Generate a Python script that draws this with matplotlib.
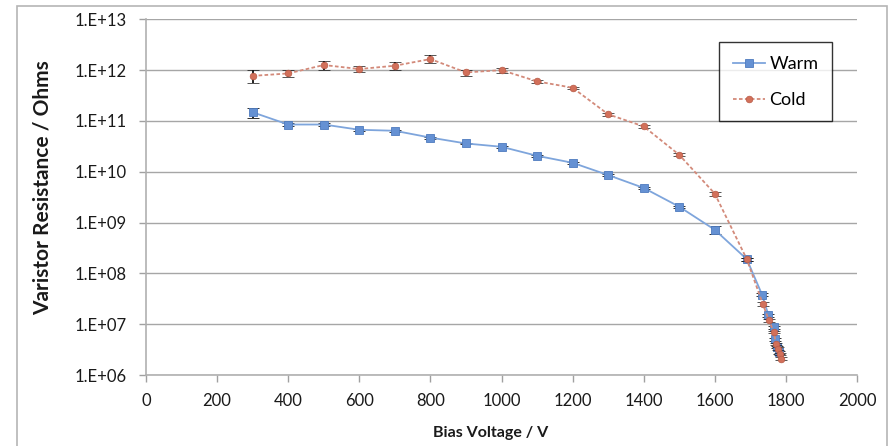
import matplotlib
matplotlib.use("Agg")
import matplotlib.pyplot as plt
from matplotlib.patches import Rectangle
from matplotlib.ticker import FixedLocator, FixedFormatter, NullLocator

plt.rcParams['font.family'] = ['Lato', 'DejaVu Sans']

# ---- data ----
warm_v = [300, 400, 500, 600, 700, 800, 900, 1000, 1100, 1200, 1300, 1400, 1500, 1600,
          1690, 1733, 1751, 1766, 1768, 1774, 1780]
warm_r = [1.48e11, 8.5e10, 8.5e10, 6.7e10, 6.4e10, 4.7e10, 3.6e10, 3.1e10, 2.06e10, 1.5e10,
          8.6e9, 4.8e9, 2.05e9, 7.2e8, 1.9e8, 3.8e7, 1.5e7, 8.8e6, 5.0e6, 3.6e6, 2.8e6]
warm_err = [3.5e10, 5e9, 5e9, 3e9, 3e9, 2e9, 1.5e9, 1.2e9, 1e9, 6e8, 4e8, 2.5e8, 1e8, 1.2e8,
            1.2e7, 2.5e6, 1e6, 6e5, 3e5, 2e5, 2e5]

cold_v = [300, 400, 500, 600, 700, 800, 900, 1000, 1100, 1200, 1300, 1400, 1500, 1600,
          1690, 1735, 1752, 1766, 1772, 1778, 1782, 1786]
cold_r = [7.7e11, 8.6e11, 1.26e12, 1.05e12, 1.22e12, 1.65e12, 9.0e11, 1.0e12, 6.0e11, 4.5e11,
          1.35e11, 7.8e10, 2.15e10, 3.7e9, 1.9e8, 2.5e7, 1.2e7, 7.0e6, 4.1e6, 3.3e6, 2.6e6, 2.1e6]
cold_err = [2.2e11, 1.3e11, 2.5e11, 1.5e11, 2e11, 3e11, 1.2e11, 1.2e11, 5e10, 2.5e10, 8e9, 4e9,
            1.5e9, 3e8, 1.5e7, 2e6, 8e5, 4e5, 2.5e5, 2e5, 1.5e5, 1.2e5]

x_ticks = [0, 200, 400, 600, 800, 1000, 1200, 1400, 1600, 1800, 2000]
y_ticks = [1e6, 1e7, 1e8, 1e9, 1e10, 1e11, 1e12, 1e13]
y_tick_labels = ['1.E+06', '1.E+07', '1.E+08', '1.E+09', '1.E+10', '1.E+11', '1.E+12', '1.E+13']

# ---- figure ----
W, H = 891, 446
fig = plt.figure(figsize=(W / 100, H / 100), dpi=100)
fig.patch.set_facecolor('white')
fig.add_artist(Rectangle((17 / W, -0.02), (887 - 17) / W, 1 - 6 / H + 0.02,
                         transform=fig.transFigure, fill=False, edgecolor='#B5B5B5', lw=1.2))

ax = fig.add_axes([146 / W, 1 - 375 / H, (857 - 146) / W, (375 - 19.3) / H])
ax.set_yscale('log')
ax.set_xlim(0, 2000)
ax.set_ylim(1e6, 1e13)

grid_c = '#A6A6A6'
ax.yaxis.set_major_locator(FixedLocator(y_ticks))
ax.yaxis.set_major_formatter(FixedFormatter(y_tick_labels))
ax.yaxis.set_minor_locator(NullLocator())
ax.set_xticks(x_ticks)
ax.set_xticklabels([str(v) for v in x_ticks])
ax.grid(axis='y', color=grid_c, lw=1.0)
ax.set_axisbelow(True)
for s in ['top', 'right']:
    ax.spines[s].set_visible(False)
for s in ['left', 'bottom']:
    ax.spines[s].set_color('#B0B0B0')
    ax.spines[s].set_linewidth(1.2)
ax.tick_params(axis='both', which='major', direction='out', length=5, width=1,
               color='#A0A0A0', labelsize=12, labelcolor='#1a1a1a')
ax.tick_params(axis='y', pad=9)
ax.tick_params(axis='x', pad=8)

ax.errorbar(warm_v, warm_r, yerr=warm_err, color='#7EA5DC', lw=1.3,
            marker='s', ms=5.5, mfc='#6591D3', mec='#4E7BBF', mew=0.6,
            ecolor='#111111', elinewidth=1.3, capsize=4, capthick=1.5,
            label='Warm', zorder=3)
ax.errorbar(cold_v, cold_r, yerr=cold_err, color='#D38A7A', lw=1.3, ls=(0, (2, 1.3)),
            marker='o', ms=4.8, mfc='#D2705A', mec='#B85A46', mew=0.5,
            ecolor='#111111', elinewidth=1.3, capsize=4, capthick=1.5,
            label='Cold', zorder=4)

ax.set_xlabel('Bias Voltage / V', fontsize=11.5, fontweight='bold', color='#1a1a1a')
ax.xaxis.set_label_coords(0.485, -0.163)
ax.xaxis.label.set_verticalalignment('center')
ax.set_ylabel('Varistor Resistance / Ohms', fontsize=15, fontweight='bold', color='#1a1a1a')
ax.yaxis.set_label_coords(-0.146, 0.527)
ax.yaxis.label.set_verticalalignment('center')

handles, labels = ax.get_legend_handles_labels()
handles = [h[0] for h in handles]
leg = ax.legend(handles, labels, loc='upper left', bbox_to_anchor=(0.806, 0.935),
                fontsize=13, frameon=True, fancybox=False, handlelength=1.8,
                labelspacing=1.1, borderpad=0.75, handletextpad=0.25, borderaxespad=0)
leg.get_frame().set_edgecolor('black')
leg.get_frame().set_linewidth(1.0)

fig.savefig('out.png', dpi=100)
